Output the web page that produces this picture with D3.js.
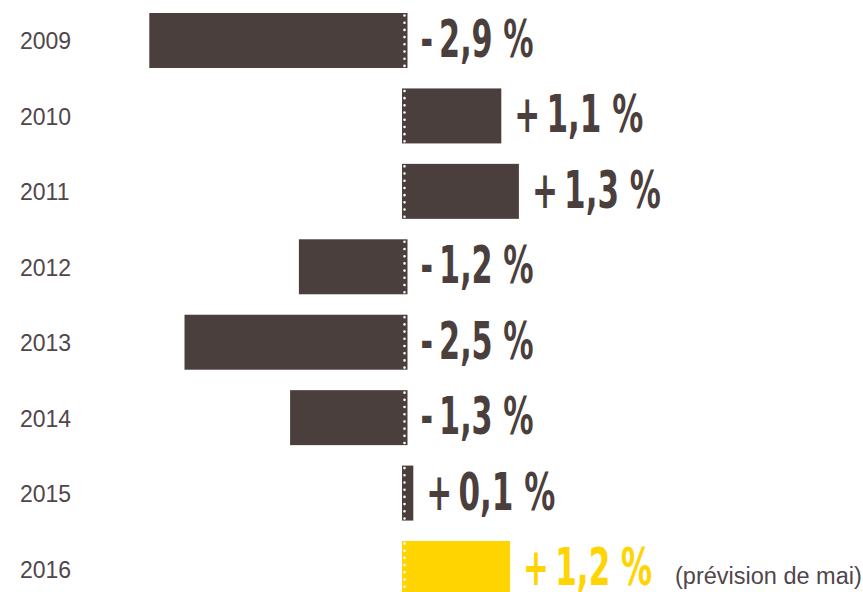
<!DOCTYPE html>
<html><head><meta charset="utf-8">
<script src="https://cdn.jsdelivr.net/npm/d3@7"></script>
<style>html,body{margin:0;padding:0;background:#fff;}svg{display:block;}</style>
</head><body>
<svg id="c" width="863" height="592"></svg>
<script>
const years = ["2009","2010","2011","2012","2013","2014","2015","2016"];
const values = [-2.9, 1.1, 1.3, -1.2, -2.5, -1.3, 0.1, 1.2];
const labels = ["-\u20092,9 %","+\u20091,1 %","+\u20091,3 %","-\u20091,2 %","-\u20092,5 %","-\u20091,3 %","+\u20090,1 %","+\u20091,2 %"];
const forecast = [false,false,false,false,false,false,false,true];
const note = "(prévision de mai)";

const dark = "#4b3f3d", yellow = "#ffd400";
const svg = d3.select("#c");
const y = d3.scaleBand().domain(years).range([13, 596]).paddingInner(0.271).paddingOuter(0);
const x = d3.scaleLinear().domain([-3, 2]).range([140.5, 580.5]);
const x0 = x(0);
const data = years.map((yr,i)=>({yr, v:values[i], lab:labels[i], f:forecast[i]}));

// year labels
svg.selectAll("text.yr").data(data).join("text").attr("class","yr")
  .attr("x",20).attr("y",d=>y(d.yr)+y.bandwidth()/2+9)
  .attr("font-family","'Liberation Sans', Arial, Helvetica, sans-serif")
  .attr("font-size",23).attr("fill","#51464a").text(d=>d.yr);

// bars
svg.selectAll("rect.bar").data(data).join("rect").attr("class","bar")
  .attr("x",d=>d.v<0?x(d.v):x0-2.5)
  .attr("width",d=>d.v<0?(x0+3-x(d.v)):(x(d.v)-x0+2.5))
  .attr("y",d=>y(d.yr)).attr("height",y.bandwidth())
  .attr("fill",d=>d.f?yellow:dark);

// dotted zero line
svg.selectAll("line.z").data(data).join("line").attr("class","z")
  .attr("x1",x0).attr("x2",x0)
  .attr("y1",d=>y(d.yr)+2.5).attr("y2",d=>y(d.yr)+y.bandwidth())
  .attr("stroke","#fff").attr("stroke-width",2.6)
  .attr("stroke-linecap","round").attr("stroke-dasharray","0 7.2");

// value labels
const vl = svg.selectAll("text.val").data(data).join("text").attr("class","val")
  .attr("font-family","'DejaVu Sans Condensed','Liberation Sans Narrow','DejaVu Sans',sans-serif")
  .attr("font-weight","bold").attr("font-size",51)
  .attr("fill",d=>d.f?yellow:dark)
  .text(d=>d.lab);
const targetW = d=> d.v<0?113:129;
vl.each(function(d){
  const w = this.getComputedTextLength();
  const k = targetW(d)/w;
  const lx = d.v<0 ? x0+16 : x(d.v)+13;
  const ly = y(d.yr)+y.bandwidth()/2+16.5;
  d3.select(this).attr("transform",`translate(${lx},${ly}) scale(${k},1)`);
});

// note
svg.append("text").attr("x",675).attr("y",y("2016")+y.bandwidth()/2+15)
  .attr("font-family","'Liberation Sans', Arial, Helvetica, sans-serif")
  .attr("font-size",23.5).attr("fill","#51464a").text(note);
</script>
</body></html>
